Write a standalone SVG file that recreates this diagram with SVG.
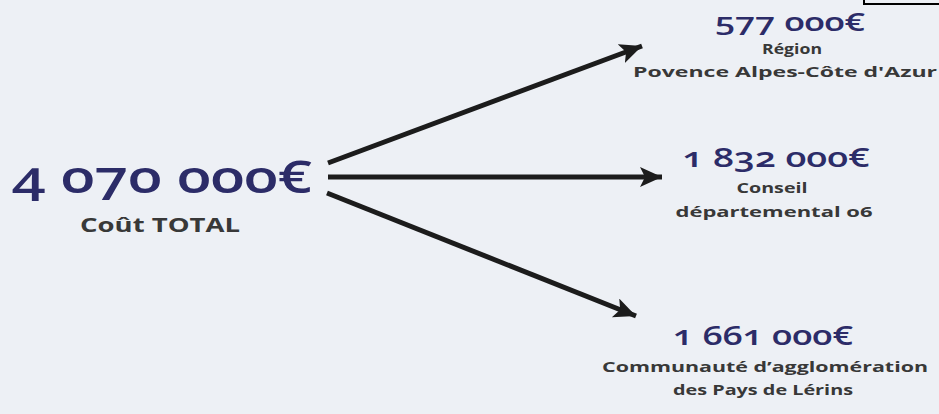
<svg xmlns="http://www.w3.org/2000/svg" width="939" height="414" viewBox="0 0 939 414">
<defs>
<style>
.num{font-family:"Open Sans","Lato","Liberation Sans",sans-serif;font-weight:600;fill:#2c2c68;font-variant-numeric:oldstyle-nums;font-feature-settings:"onum" 1;text-anchor:middle}
.lbl{font-family:"Open Sans","Lato","Liberation Sans",sans-serif;font-weight:bold;fill:#383838;text-anchor:middle}
.con{stroke:#1c1c1c;stroke-width:5;fill:none;marker-end:url(#ah)}
</style>
<marker id="ah" markerUnits="userSpaceOnUse" markerWidth="26" markerHeight="22" refX="22" refY="10" orient="auto">
<path d="M0,0 L22,10 L0,20 L5,10 z" fill="#1c1c1c"/>
</marker>
</defs>
<rect x="0" y="0" width="939" height="414" fill="#edf0f5"/>
<rect x="864" y="-3" width="80" height="7" fill="none" stroke="#000" stroke-width="2"/>
<g id="connectors">
<line class="con" x1="328" y1="163" x2="642" y2="46"/>
<line class="con" x1="328" y1="177" x2="662" y2="177"/>
<line class="con" x1="327" y1="193" x2="636" y2="316"/>
</g>
<g id="total">
<text class="num" x="162" y="193" font-size="46" textLength="300" lengthAdjust="spacingAndGlyphs">4 070 000€</text>
<text class="lbl" x="160" y="232" font-size="20" textLength="160" lengthAdjust="spacingAndGlyphs">Coût TOTAL</text>
</g>
<g id="region">
<text class="num" x="790" y="31" font-size="25" textLength="150" lengthAdjust="spacingAndGlyphs">577 000€</text>
<text class="lbl" x="792" y="54" font-size="14" textLength="60" lengthAdjust="spacingAndGlyphs">Région</text>
<text class="lbl" x="785" y="77" font-size="15" textLength="304" lengthAdjust="spacingAndGlyphs">Povence Alpes-Côte d'Azur</text>
</g>
<g id="conseil">
<text class="num" x="776" y="167" font-size="27" textLength="187" lengthAdjust="spacingAndGlyphs">1 832 000€</text>
<text class="lbl" x="772" y="193" font-size="15" textLength="71" lengthAdjust="spacingAndGlyphs">Conseil</text>
<text class="lbl" x="774" y="217" font-size="15" textLength="197" lengthAdjust="spacingAndGlyphs">départemental o6</text>
</g>
<g id="communaute">
<text class="num" x="763" y="345" font-size="27" textLength="180" lengthAdjust="spacingAndGlyphs">1 661 000€</text>
<text class="lbl" x="765" y="372" font-size="15" textLength="326" lengthAdjust="spacingAndGlyphs">Communauté d’agglomération</text>
<text class="lbl" x="763" y="395" font-size="15" textLength="180" lengthAdjust="spacingAndGlyphs">des Pays de Lérins</text>
</g>
</svg>
